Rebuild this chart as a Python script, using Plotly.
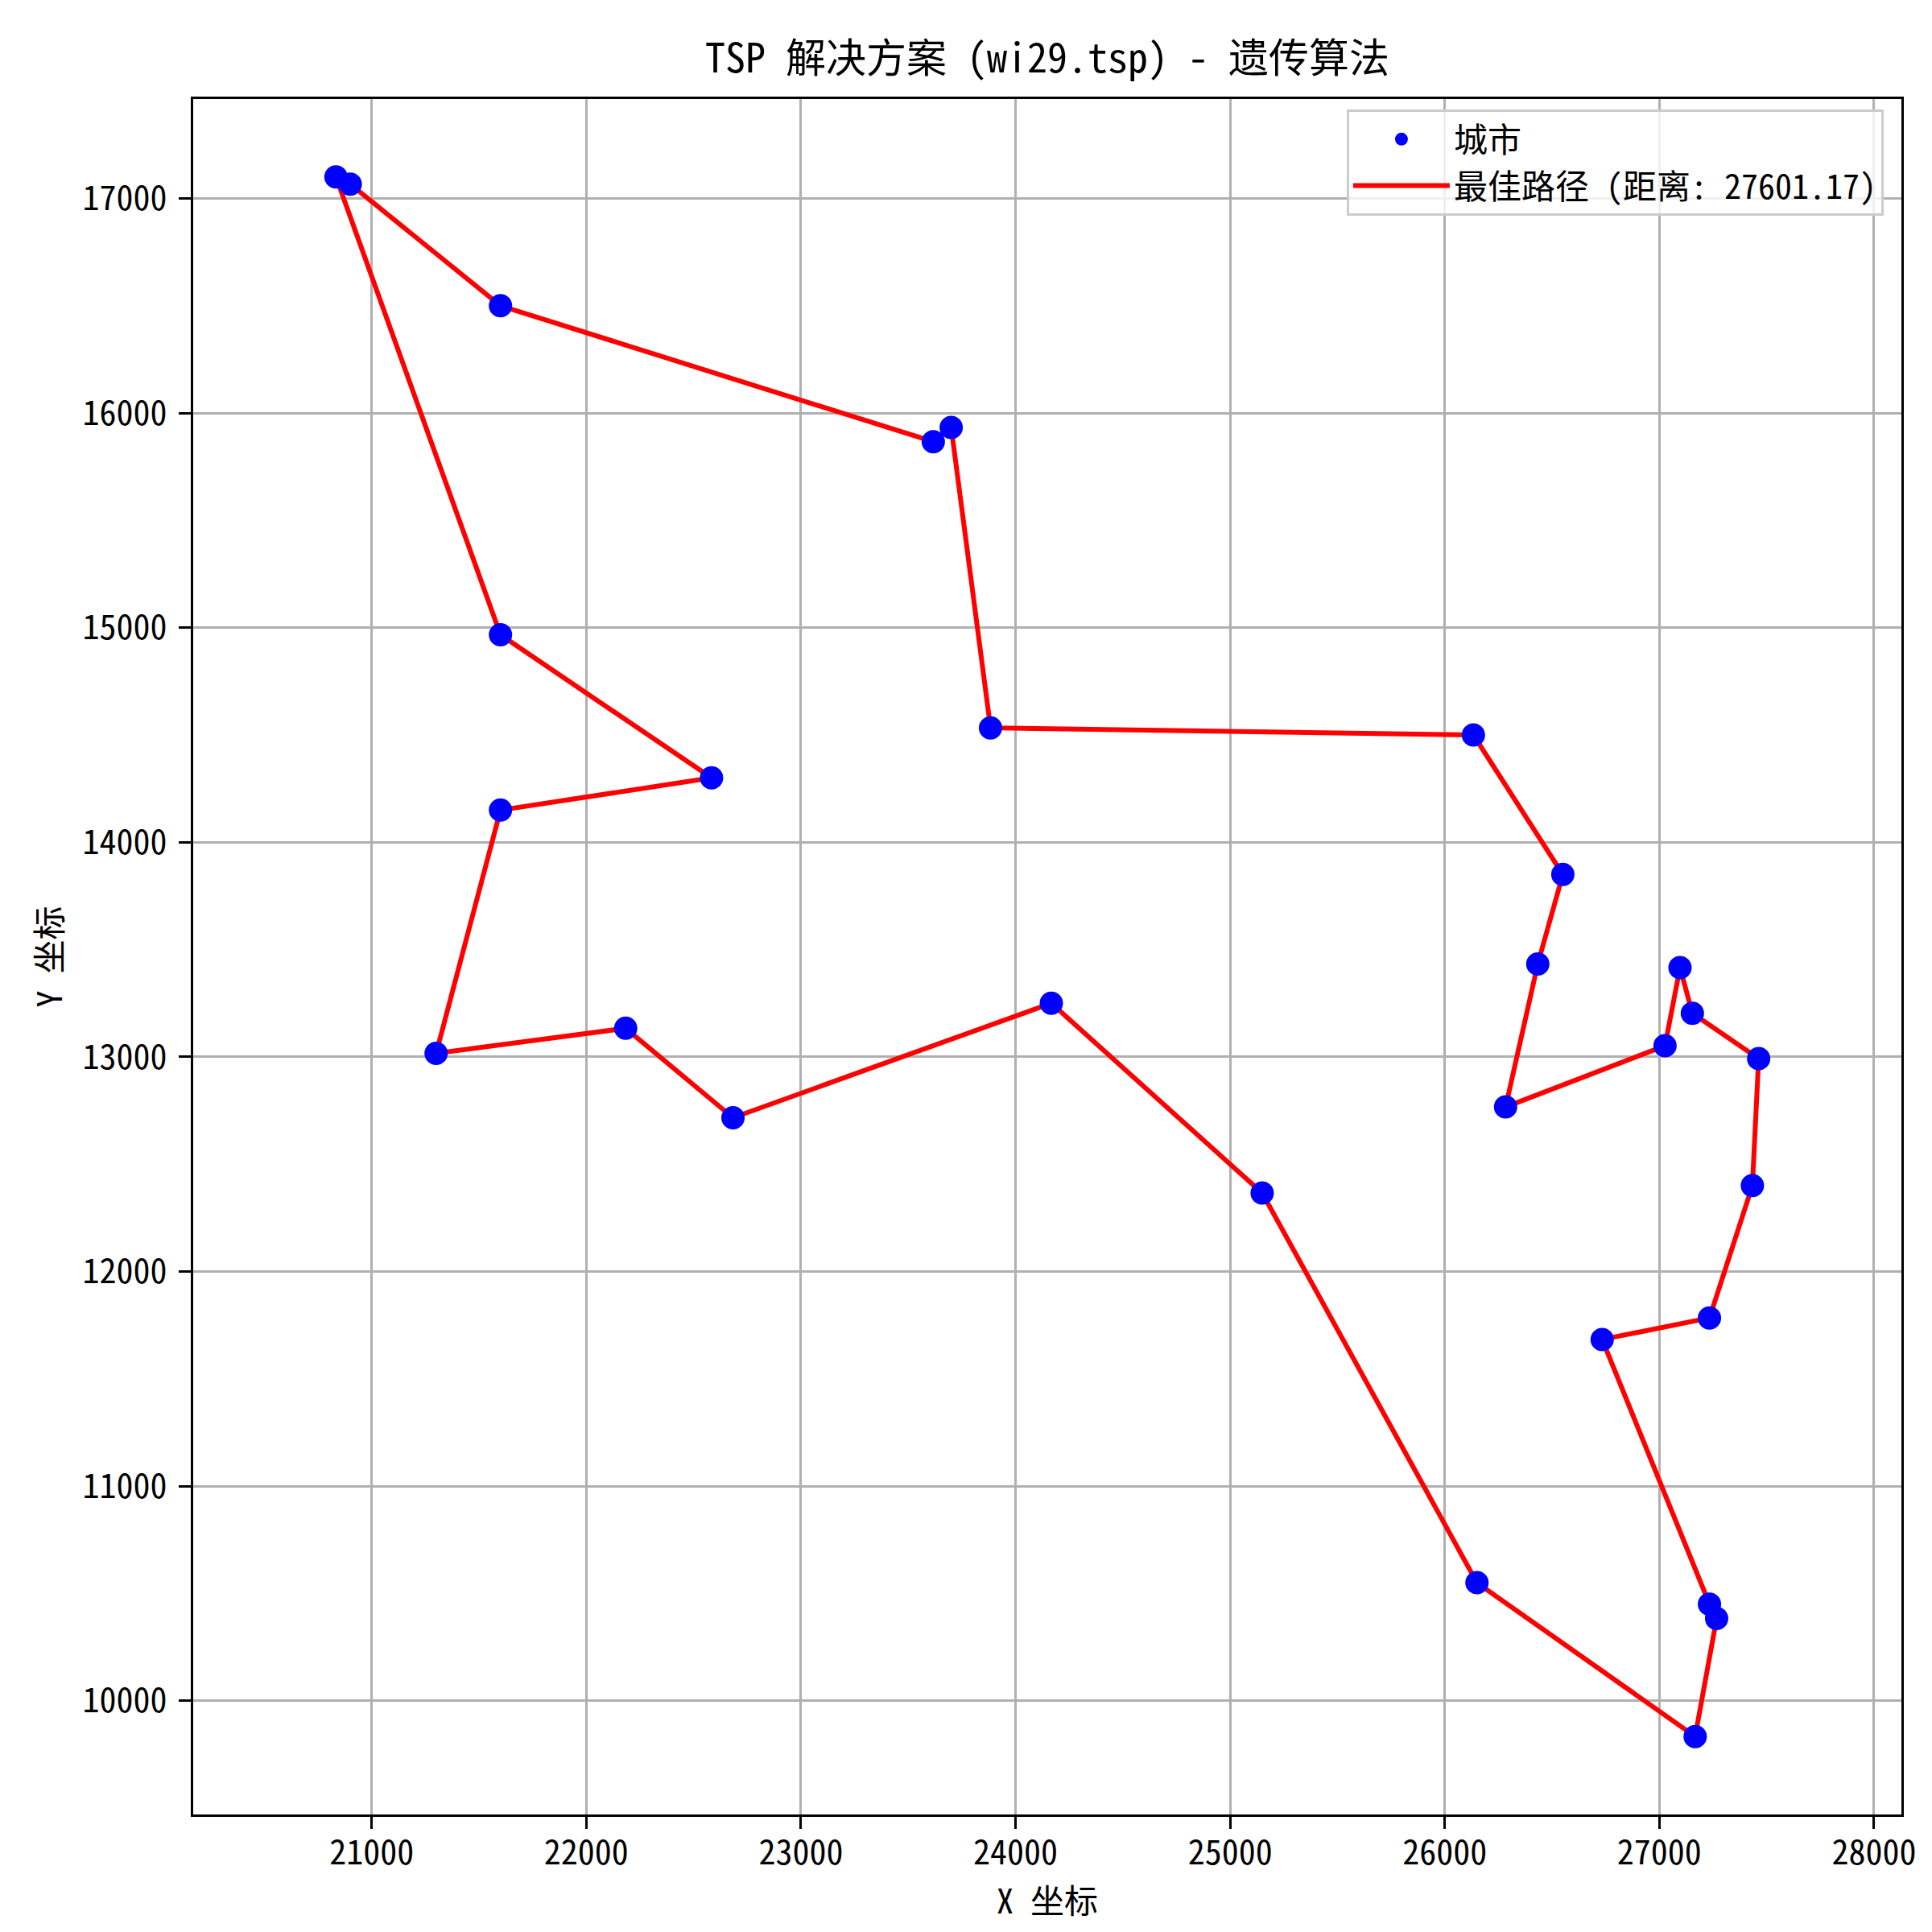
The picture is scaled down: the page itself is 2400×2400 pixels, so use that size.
import plotly.graph_objects as go

# wi29 城市坐标
city_x = [20833.3333, 20900.0000, 21300.0000, 21600.0000, 21600.0000, 21600.0000,
          22183.3333, 22583.3333, 22683.3333, 23616.6667, 23700.0000, 23883.3333,
          24166.6667, 25149.1667, 26133.3333, 26150.0000, 26283.3333, 26433.3333,
          26550.0000, 26733.3333, 27026.1111, 27096.1111, 27153.6111, 27166.6667,
          27233.3333, 27233.3333, 27266.6667, 27433.3333, 27462.5000]
city_y = [17100.0000, 17066.6667, 13016.6667, 14150.0000, 14966.6667, 16500.0000,
          13133.3333, 14300.0000, 12716.6667, 15866.6667, 15933.3333, 14533.3333,
          13250.0000, 12365.8333, 14500.0000, 10550.0000, 12766.6667, 13433.3333,
          13850.0000, 11683.3333, 13051.9444, 13415.8333, 13203.3333, 9833.3333,
          10450.0000, 11783.3333, 10383.3333, 12400.0000, 12992.2222]

# 最佳路径 (城市编号, 从1开始)
best_tour = [1, 2, 6, 10, 11, 12, 15, 19, 18, 17, 21, 22, 23, 29, 28, 26, 20,
             25, 27, 24, 16, 14, 13, 9, 7, 3, 4, 8, 5]
best_distance = 27601.17

W, H = 2400, 2400
ML, MR, MT, MB = 232, 46, 115, 154
pw, ph = W - ML - MR, H - MT - MB

route = best_tour + [best_tour[0]]
route_x = [city_x[i - 1] for i in route]
route_y = [city_y[i - 1] for i in route]

# 等比例坐标轴 (y 自动留 5% 边距, x 按比例扩展)
ymin, ymax = min(city_y), max(city_y)
ypad = 0.05 * (ymax - ymin)
y_range = [ymin - ypad, ymax + ypad]
xc = (min(city_x) + max(city_x)) / 2
xspan = (y_range[1] - y_range[0]) * pw / ph
x_range = [xc - xspan / 2, xc + xspan / 2]

FONT = "Noto Sans Mono CJK SC, Noto Sans CJK SC, sans-serif"

fig = go.Figure()
fig.add_trace(go.Scatter(
    x=route_x, y=route_y, mode='lines',
    line=dict(color='red', width=6),
    name=f'最佳路径 (距离: {best_distance:.2f})',
    legendrank=2,
))
fig.add_trace(go.Scatter(
    x=city_x, y=city_y, mode='markers',
    marker=dict(color='blue', size=29, line=dict(width=0)),
    name='城市',
    legendrank=1,
))

axis_common = dict(
    showgrid=True, gridcolor='#b0b0b0', gridwidth=3,
    showline=True, linecolor='black', linewidth=3, mirror=True,
    ticks='outside', ticklen=15, tickwidth=3, tickcolor='black',
    tickfont=dict(size=42, family=FONT, color='black'),
    tickformat='d', zeroline=False,
)

fig.update_layout(
    width=W, height=H,
    margin=dict(l=ML, r=MR, t=MT, b=MB),
    paper_bgcolor='white', plot_bgcolor='white',
    font=dict(family=FONT, color='black', size=42),
    title=dict(text='TSP 解决方案 (wi29.tsp) - 遗传算法',
               x=0.5, xref='paper', xanchor='center',
               y=1 - 64 / H, yref='container', yanchor='middle',
               font=dict(size=50, family=FONT, color='black')),
    xaxis=dict(range=x_range, dtick=1000, tick0=0,
               title=dict(text='X 坐标', font=dict(size=42), standoff=2),
               ticklabelstandoff=-6, **axis_common),
    yaxis=dict(range=y_range, dtick=1000, tick0=0,
               title=dict(text='Y 坐标', font=dict(size=42), standoff=12),
               ticklabelstandoff=6, **axis_common),
    legend=dict(x=0.9896, y=0.9939, xanchor='right', yanchor='top',
                bgcolor='rgba(255,255,255,0.8)', bordercolor='#cccccc',
                borderwidth=3, font=dict(size=42, family=FONT),
                itemsizing='trace', itemwidth=120),
    showlegend=True,
)

fig.write_html("out.html")
